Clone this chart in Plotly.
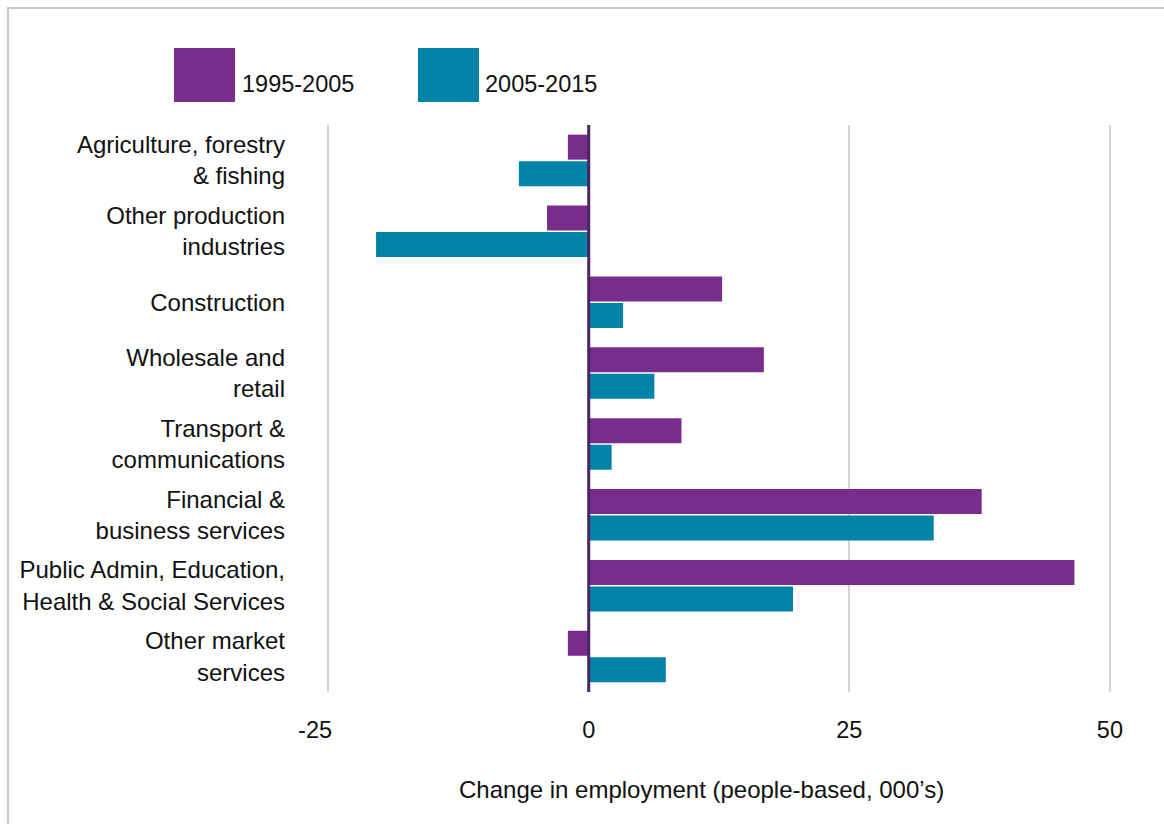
import plotly.graph_objects as go

# Industry sectors (top to bottom)
categories = [
    "Agriculture, forestry<br>& fishing",
    "Other production<br>industries",
    "Construction",
    "Wholesale and<br>retail",
    "Transport &<br>communications",
    "Financial &<br>business services",
    "Public Admin, Education,<br>Health & Social Services",
    "Other market<br>services",
]

# Change in employment, thousands of people
change_1995_2005 = [-2.0, -4.0, 12.8, 16.8, 8.9, 37.7, 46.6, -2.0]
change_2005_2015 = [-6.7, -20.4, 3.3, 6.3, 2.2, 33.1, 19.6, 7.4]

series_names = ["1995-2005", "2005-2015"]
tick_values = [-25, 0, 25, 50]
tick_labels = ["-25\u2007\u2007", "0", "25", "50"]

PURPLE = "#782c8c"
TEAL = "#0483a8"
ZERO = "#4b2563"
GRID = "#d4d4d4"
FONT = "Liberation Sans, Arial, Helvetica, sans-serif"

W, H = 1164, 824
ML, MR, MT, MB = 325, 51, 125, 132
PW, PH = W - ML - MR, H - MT - MB


def px_x(x):
    return (x - ML) / PW


def px_y(y):
    return (H - MB - y) / PH


fig = go.Figure()
for name, vals, col in [
    (series_names[0], change_1995_2005, PURPLE),
    (series_names[1], change_2005_2015, TEAL),
]:
    fig.add_trace(go.Bar(
        y=categories, x=vals, name=name, orientation="h",
        marker=dict(color=col, line=dict(width=0)),
        showlegend=False,
    ))

shapes = [
    # zero line drawn over the bars
    dict(type="line", xref="x", yref="paper", x0=0, x1=0, y0=0, y1=1,
         line=dict(color=ZERO, width=3), layer="above"),
    # frame (top and left edges)
    dict(type="line", xref="paper", yref="paper", x0=px_x(7), x1=px_x(W + 5),
         y0=px_y(8), y1=px_y(8), line=dict(color="#c8c8c8", width=2)),
    dict(type="line", xref="paper", yref="paper", x0=px_x(8), x1=px_x(8),
         y0=px_y(7), y1=px_y(H + 5), line=dict(color="#c8c8c8", width=2)),
]

# legend keys
annotations = []
for (x0, x1, tx), name, col in zip(
    [(174, 235, 240), (418, 479, 483)], series_names, [PURPLE, TEAL]
):
    shapes.append(dict(type="rect", xref="paper", yref="paper",
                       x0=px_x(x0), x1=px_x(x1), y0=px_y(102), y1=px_y(48),
                       fillcolor=col, line=dict(width=0)))
    annotations.append(dict(text=name, xref="paper", yref="paper",
                            x=px_x(tx), y=px_y(84), xanchor="left",
                            yanchor="middle", showarrow=False,
                            font=dict(size=23.5, color="#111111", family=FONT)))

annotations.append(dict(
    text="Change in employment (people-based, 000\u2019s)",
    xref="paper", yref="paper", x=px_x(701), y=px_y(790),
    xanchor="center", yanchor="middle", showarrow=False,
    font=dict(size=24, color="#111111", family=FONT)))

fig.update_layout(
    width=W, height=H,
    margin=dict(l=ML, r=MR, t=MT, b=MB),
    paper_bgcolor="white", plot_bgcolor="white",
    barmode="group", bargap=0.25, bargroupgap=0.06,
    font=dict(family=FONT, size=24, color="#111111"),
    shapes=shapes, annotations=annotations,
    xaxis=dict(
        range=[-25.3, 50.3], tickvals=tick_values, ticktext=tick_labels,
        showgrid=True, gridcolor=GRID, gridwidth=2,
        zeroline=False, showline=False, ticks="",
        ticklabelstandoff=21, tickfont=dict(size=23.5),
    ),
    yaxis=dict(
        categoryorder="array", categoryarray=categories,
        autorange="reversed", showgrid=False, zeroline=False,
        showline=False, ticks="", ticklabelstandoff=39,
        tickfont=dict(size=24),
    ),
)

fig.write_html("out.html")
